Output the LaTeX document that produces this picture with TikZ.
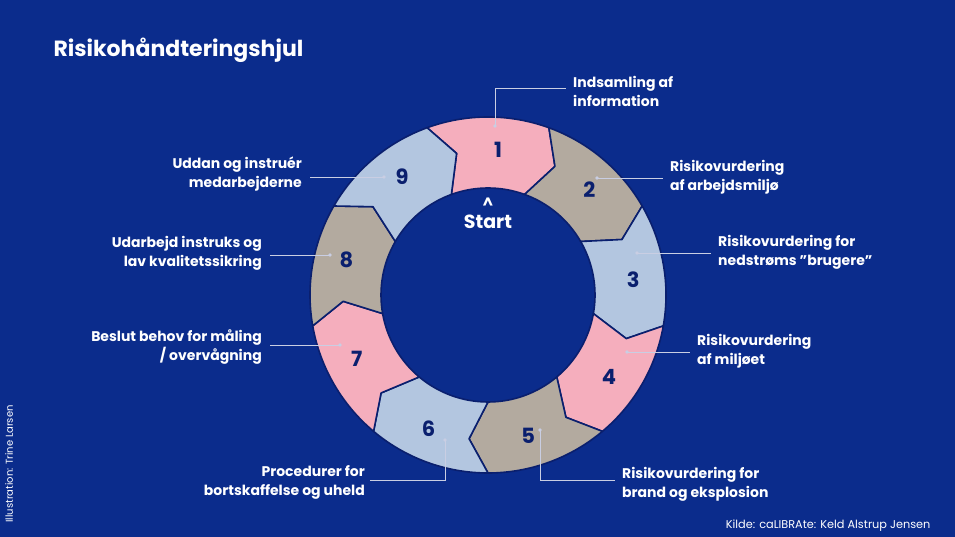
\documentclass[tikz,border=0pt]{standalone}
\usepackage{fontspec}
\setmainfont{Poppins}
\usetikzlibrary{positioning}
\definecolor{bg}{HTML}{0B2C8C}
\definecolor{navy}{HTML}{0A1F6E}
\definecolor{pinkseg}{HTML}{F5AEBD}
\definecolor{greyseg}{HTML}{B3AA9F}
\definecolor{blueseg}{HTML}{B3C6E0}
\definecolor{leader}{HTML}{C9CEE3}
\tikzset{
  segnum/.style={font=\fontsize{21}{21}\selectfont\bfseries, text=navy},
  lbl/.style={font=\fontsize{14}{19}\selectfont\bfseries, text=white, align=left, inner sep=0pt},
  lblr/.style={lbl, align=right},
  lead/.style={draw=leader, line width=0.8pt},
  dot/.style={circle, fill=leader, inner sep=1.4pt}
}
\begin{document}
\begin{tikzpicture}[x=1pt,y=1pt]
  \fill[bg] (0,0) rectangle (955,537);
  \useasboundingbox (0,0) rectangle (955,537);
  \coordinate (c) at (488,242);
  % wheel segments
  \foreach \k/\col in {1/pinkseg,2/greyseg,3/blueseg,4/pinkseg,5/greyseg,6/blueseg,7/pinkseg,8/greyseg,9/blueseg}{
    \pgfmathsetmacro{\a}{110-40*(\k-1)}
    \pgfmathsetmacro{\b}{\a-40}
    \pgfmathsetmacro{\m}{\a-24}
    \filldraw[fill=\col, draw=navy, line width=1.6pt, line join=round]
      ([shift={(\a:178)}]c) arc[start angle=\a, end angle=\b, radius=178]
      -- ([shift={(\b-7.5:145)}]c) -- ([shift={(\b:107)}]c)
      arc[start angle=\b, end angle=\a, radius=107]
      -- ([shift={(\a-7.5:145)}]c) -- cycle;
    \node[segnum] (n\k) at ([shift={(\m:146)}]c) {\k};
  }
  \fill[bg] (c) circle (105);
  \node[font=\fontsize{19}{19}\selectfont\bfseries, text=white] (start) at (488,315) {Start};
  \node[font=\fontsize{15}{15}\selectfont\bfseries, text=white, above=0pt of start] (caret) {\^{}};
  % title and credits
  \node[font=\fontsize{22}{22}\selectfont\bfseries, text=white, anchor=west] (title) at (50,487) {Risikohåndteringshjul};
  \node[font=\fontsize{11.3}{11}\selectfont, text=white, anchor=east] (kilde) at (934,11) {Kilde: caLIBRAte: Keld Alstrup Jensen};
  \node[font=\fontsize{10}{10}\selectfont, text=white, rotate=90, anchor=west] (illu) at (9,11) {Illustration: Trine Larsen};
  % labels
  \node[lbl, anchor=west] (l1) at (573,446) {Indsamling af\\information};
  \node[lbl, anchor=west] (l2) at (670,360) {Risikovurdering\\af arbejdsmiljø};
  \node[lbl, anchor=west] (l3) at (718,285) {Risikovurdering for\\nedstrøms ”brugere”};
  \node[lbl, anchor=west] (l4) at (697,186) {Risikovurdering\\af miljøet};
  \node[lbl, anchor=west] (l5) at (622,53) {Risikovurdering for\\brand og eksplosion};
  \node[lblr, anchor=east] (l6) at (365,55) {Procedurer for\\bortskaffelse og uheld};
  \node[lblr, anchor=east] (l7) at (262,190) {Beslut behov for måling\\/ overvågning};
  \node[lblr, anchor=east] (l8) at (262,284) {Udarbejd instruks og\\lav kvalitetssikring};
  \node[lblr, anchor=east] (l9) at (302,363) {Uddan og instruér\\medarbejderne};
  % leader lines
  \node[dot] (d1) at (495,411) {};
  \node[dot] (d2) at (597,359) {};
  \node[dot] (d3) at (637,284) {};
  \node[dot] (d4) at (627,185) {};
  \node[dot] (d5) at (540,107) {};
  \node[dot] (d6) at (445,97) {};
  \node[dot] (d7) at (340,192) {};
  \node[dot] (d8) at (330,282) {};
  \node[dot] (d9) at (384,360) {};
  \draw[lead] (d1.center) |- ([xshift=-7pt]l1.west |- 0,449);
  \draw[lead] (d2.center) -- ([xshift=-7pt]l2.west |- d2);
  \draw[lead] (d3.center) -- ([xshift=-7pt]l3.west |- d3);
  \draw[lead] (d4.center) -- ([xshift=-7pt]l4.west |- d4);
  \draw[lead] (d5.center) |- ([xshift=-7pt]l5.west |- 0,57);
  \draw[lead] (d6.center) |- ([xshift=5pt]l6.east |- 0,57);
  \draw[lead] (d7.center) -- ([xshift=8pt]l7.east |- d7);
  \draw[lead] (d8.center) -- ([xshift=8pt]l8.east |- d8);
  \draw[lead] (d9.center) -- ([xshift=8pt]l9.east |- d9);
\end{tikzpicture}
\end{document}
